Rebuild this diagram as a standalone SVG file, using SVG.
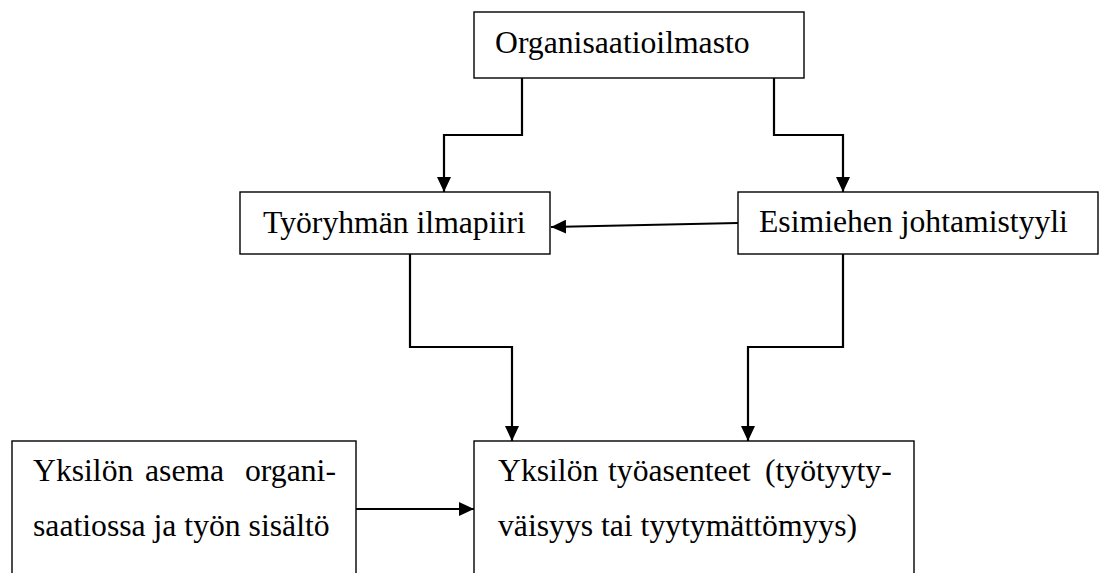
<svg xmlns="http://www.w3.org/2000/svg" width="1100" height="573" viewBox="0 0 1100 573">
  <style>
    .box { fill: #ffffff; stroke: #000000; stroke-width: 1.4; }
    .lbl { font-family: "Liberation Serif", "Times New Roman", serif; font-size: 31.7px; fill: #000000; }
    .conn { fill: none; stroke: #000000; stroke-width: 2.2; marker-end: url(#arrow); }
  </style>
  <defs>
    <marker id="arrow" viewBox="0 0 15 14" refX="15" refY="7" markerWidth="15" markerHeight="14" markerUnits="userSpaceOnUse" orient="auto">
      <path d="M0,0 L15,7 L0,14 Z" fill="#000000"/>
    </marker>
  </defs>
  <rect width="1100" height="573" fill="#ffffff"/>

  <g id="connectors">
    <path class="conn" d="M522,78 V135 H444 V192"/>
    <path class="conn" d="M774,78 V135 H843 V192"/>
    <path class="conn" d="M738,223 L551,227"/>
    <path class="conn" d="M410,254 V347 H512 V441"/>
    <path class="conn" d="M843,254 V347 H748 V441"/>
    <path class="conn" d="M356,509 H474"/>
  </g>

  <g id="organisaatioilmasto">
    <rect class="box" x="474" y="12" width="330" height="66"/>
    <text class="lbl" x="495" y="53">Organisaatioilmasto</text>
  </g>

  <g id="tyoryhman-ilmapiiri">
    <rect class="box" x="240" y="192" width="310" height="62"/>
    <text class="lbl" x="263" y="233">Työryhmän ilmapiiri</text>
  </g>

  <g id="esimiehen-johtamistyyli">
    <rect class="box" x="738" y="192" width="360" height="62"/>
    <text class="lbl" x="759" y="232">Esimiehen johtamistyyli</text>
  </g>

  <g id="yksilon-asema">
    <rect class="box" x="12" y="441" width="344" height="150"/>
    <text class="lbl" y="481"><tspan x="33">Yksilön</tspan><tspan x="145">asema</tspan><tspan x="245">organi-</tspan></text>
    <text class="lbl" x="33" y="536">saatiossa ja työn sisältö</text>
  </g>

  <g id="yksilon-tyoasenteet">
    <rect class="box" x="474" y="441" width="440" height="150"/>
    <text class="lbl" y="481"><tspan x="498">Yksilön</tspan><tspan x="608">työasenteet</tspan><tspan x="765">(työtyyty-</tspan></text>
    <text class="lbl" x="498" y="536">väisyys tai tyytymättömyys)</text>
  </g>
</svg>
